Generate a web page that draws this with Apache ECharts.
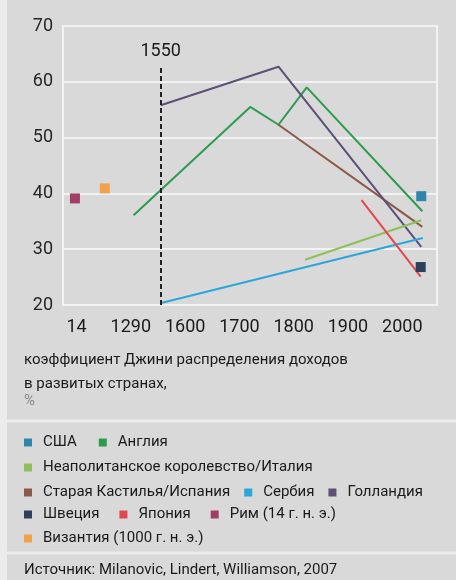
<!DOCTYPE html>
<html>
<head>
<meta charset="utf-8">
<title></title>
<script src="https://cdn.jsdelivr.net/npm/echarts@6.0.0/dist/echarts.min.js"></script>
<style>body{margin:0;background:#d9d9d9}</style>
</head>
<body>
<div id="main" style="width:456px;height:580px;"></div>
<script>
var FONT = "Roboto, 'Liberation Sans', sans-serif";

// ось X неравномерная: позиция 1400 подписана "14", 1500 — "1290", дальше годы как есть
var tickPos = [1400, 1500, 1600, 1700, 1800, 1900, 2000];
var tickText = ['14', '1290', '1600', '1700', '1800', '1900', '2000'];

var englandX = [1505, 1720, 1772, 1824, 2037];
var englandY = [36.1, 55.5, 52.3, 59.0, 36.8];
var netherlandsX = [1555, 1772, 2035];
var netherlandsY = [55.8, 62.7, 30.4];
var spainX = [1772, 2037];
var spainY = [52.3, 34.0];
var italyX = [1821, 2035];
var italyY = [28.1, 35.2];
var serbiaX = [1554, 2038];
var serbiaY = [20.3, 32.0];
var japanX = [1925, 2034];
var japanY = [38.8, 25.1];
var usaX = [2035];
var usaY = [39.5];
var swedenX = [2034];
var swedenY = [26.8];
var romeX = [1397];
var romeY = [39.1];
var byzX = [1452];
var byzY = [40.9];

var markYear = 1555;
var markText = '1550';
var markTop = 63;

function pts(xs, ys) {
  var out = [];
  for (var i = 0; i < xs.length; i++) out.push([xs[i], ys[i]]);
  return out;
}

function lineS(name, color, xs, ys) {
  return { name: name, type: 'line', color: color, showSymbol: false, symbol: 'none',
    lineStyle: { width: 2, color: color }, data: pts(xs, ys), z: 3 };
}

function dotS(name, color, xs, ys) {
  return { name: name, type: 'scatter', color: color, symbol: 'rect', symbolSize: 10,
    itemStyle: { color: color, opacity: 1 }, data: pts(xs, ys), z: 5 };
}

function txt(size, color) {
  return { fontFamily: FONT, fontWeight: 'normal', fontSize: size, color: color };
}

var rows = [
  ['США', 'Англия'],
  ['Неаполитанское королевство/Италия'],
  ['Старая Кастилья/Испания', 'Сербия', 'Голландия'],
  ['Швеция', 'Япония', 'Рим (14 г. н. э.)'],
  ['Византия (1000 г. н. э.)']
];
var rowTop = [435, 460, 485, 507, 531];
var rowGap = [22, 20, 14, 20, 20];

var legends = rows.map(function (r, i) {
  var ts = txt(15, '#1a1a1a');
  ts.padding = [0, 0, 0, 6];
  return {
    data: r, left: 24, top: rowTop[i], icon: 'rect', itemWidth: 8, itemHeight: 8,
    itemGap: rowGap[i], selectedMode: false, padding: 0, textStyle: ts
  };
});

var titleStyle = txt(15, '#1a1a1a');
titleStyle.lineHeight = 24;

var myChart = echarts.init(document.getElementById('main'));
var option = {
  animation: false,
  backgroundColor: '#d9d9d9',
  title: [{
    text: 'коэффициент Джини распределения доходов\nв развитых странах,',
    left: 24, top: 348, padding: 0, textStyle: titleStyle
  }, {
    text: '%', left: 24, top: 394, padding: 0, textStyle: txt(15, '#888')
  }, {
    text: 'Источник: Milanovic, Lindert, Williamson, 2007', left: 24, top: 563, padding: 0,
    textStyle: txt(15, '#1a1a1a')
  }],
  legend: legends,
  graphic: [
    { type: 'rect', shape: { x: 0, y: 0, width: 7, height: 580 }, style: { fill: '#ebebeb' }, silent: true },
    { type: 'line', shape: { x1: 7, y1: 421, x2: 456, y2: 421 }, style: { stroke: '#ececec', lineWidth: 3 }, silent: true },
    { type: 'line', shape: { x1: 7, y1: 553, x2: 456, y2: 553 }, style: { stroke: '#ececec', lineWidth: 3 }, silent: true }
  ],
  grid: { left: 63, right: 19, top: 26, bottom: 275, show: true, borderColor: '#f2f2f2', borderWidth: 2 },
  xAxis: {
    type: 'value', min: 1375, max: 2064,
    axisLine: { show: false }, axisTick: { show: false }, splitLine: { show: false },
    axisLabel: Object.assign(txt(18, '#1a1a1a'), {
      customValues: tickPos,
      formatter: function (v) { return tickText[tickPos.indexOf(v)]; },
      margin: 13
    })
  },
  yAxis: {
    type: 'value', min: 20, max: 70, interval: 10,
    axisLine: { show: false }, axisTick: { show: false },
    splitLine: { lineStyle: { color: '#f2f2f2', width: 2 } },
    axisLabel: Object.assign(txt(18, '#262626'), { margin: 10 })
  },
  series: [
    {
      name: '', type: 'line', data: [],
      markLine: {
        silent: true, symbol: 'none',
        lineStyle: { type: [5, 3], color: '#222', width: 2 },
        label: Object.assign(txt(18, '#1a1a1a'), { show: true, position: 'end', formatter: markText }),
        data: [[{ coord: [markYear, 20] }, { coord: [markYear, markTop] }]]
      }
    },
    lineS('Англия', '#2e9b4f', englandX, englandY),
    lineS('Старая Кастилья/Испания', '#8a5a48', spainX, spainY),
    lineS('Голландия', '#5d5078', netherlandsX, netherlandsY),
    lineS('Неаполитанское королевство/Италия', '#8dc05a', italyX, italyY),
    lineS('Сербия', '#2aa6d9', serbiaX, serbiaY),
    lineS('Япония', '#e2474e', japanX, japanY),
    dotS('США', '#2f86ad', usaX, usaY),
    dotS('Швеция', '#2d3f5a', swedenX, swedenY),
    dotS('Рим (14 г. н. э.)', '#a23d66', romeX, romeY),
    dotS('Византия (1000 г. н. э.)', '#f2a04c', byzX, byzY)
  ]
};
myChart.setOption(option);
</script>
</body>
</html>
